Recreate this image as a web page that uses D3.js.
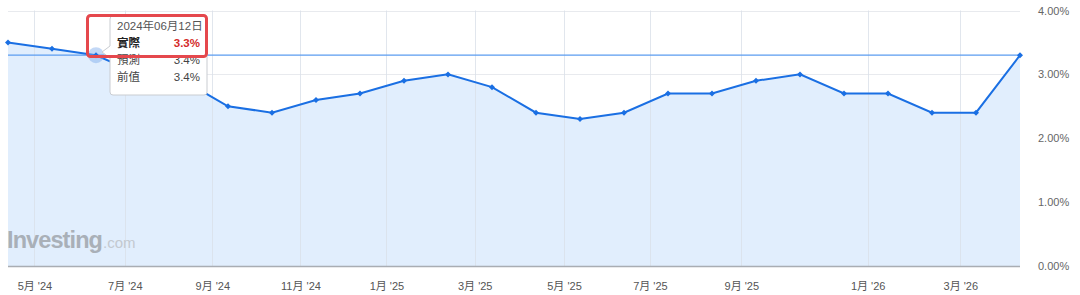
<!DOCTYPE html>
<html>
<head>
<meta charset="utf-8">
<script src="https://cdn.jsdelivr.net/npm/d3@7"></script>
<style>
  body { margin: 0; background: #fff; }
  svg { display: block; font-family: "Liberation Sans", Arial, "Noto Sans CJK TC", sans-serif; }
</style>
</head>
<body>
<svg id="chart" width="1080" height="295"></svg>
<script>
// release dates and actual values (%)
const releaseDates = [
  '2024-04-10', '2024-05-15', '2024-06-12', '2024-07-11', '2024-08-14', '2024-09-11',
  '2024-10-10', '2024-11-13', '2024-12-11', '2025-01-15', '2025-02-12', '2025-03-12',
  '2025-04-10', '2025-05-13', '2025-06-11', '2025-07-15', '2025-08-12', '2025-09-11',
  '2025-10-24', '2025-12-18', '2026-01-13', '2026-02-11', '2026-03-11', '2026-04-10'
];
const actual = [3.5, 3.4, 3.3, 3.0, 2.9, 2.5, 2.4, 2.6, 2.7, 2.9, 3.0, 2.8,
                2.4, 2.3, 2.4, 2.7, 2.7, 2.9, 3.0, 2.7, 2.7, 2.4, 2.4, 3.3];
const xTicks = ['2024-05-01', '2024-07-01', '2024-09-01', '2024-11-01', '2025-01-01', '2025-03-01',
                '2025-05-01', '2025-07-01', '2025-09-01', '2026-01-01', '2026-03-01'];
const xTickLabels = ["5月 '24", "7月 '24", "9月 '24", "11月 '24", "1月 '25", "3月 '25",
                     "5月 '25", "7月 '25", "9月 '25", "1月 '26", "3月 '26"];
const yTicks = [0, 1, 2, 3, 4];

// tooltip content
const hoverIndex = 2;
const tipDate = '2024年06月12日';
const tipRows = [['實際', '3.3%'], ['預測', '3.4%'], ['前值', '3.4%']];

const svg = d3.select('#chart');
const plotLeft = 8, plotRight = 1020, plotTop = 10.5, plotBottom = 266;

const parse = d3.timeParse('%Y-%m-%d');
const dates = releaseDates.map(parse);
const data = dates.map((d, i) => ({ date: d, value: actual[i] }));

// each release gets an equal slot, so the time scale is piecewise linear
const step = (plotRight - plotLeft) / (dates.length - 1);
const x = d3.scaleTime()
  .domain(dates)
  .range(dates.map((d, i) => plotLeft + i * step));

const y = d3.scaleLinear()
  .domain([0, 4])
  .range([plotBottom, plotTop]);

// grid
svg.append('g')
  .selectAll('line')
  .data(yTicks.filter(t => t > 0))
  .join('line')
  .attr('x1', plotLeft).attr('x2', plotRight)
  .attr('y1', d => Math.round(y(d)) + 0.5).attr('y2', d => Math.round(y(d)) + 0.5)
  .attr('stroke', '#e8eaee');

// area
const area = d3.area()
  .x(d => x(d.date))
  .y0(y(0))
  .y1(d => y(d.value));

svg.append('path')
  .datum(data)
  .attr('fill', '#e1eefd')
  .attr('d', area);

svg.append('g')
  .selectAll('line')
  .data(xTicks.map(parse))
  .join('line')
  .attr('x1', d => Math.round(x(d)) + 0.5).attr('x2', d => Math.round(x(d)) + 0.5)
  .attr('y1', plotTop).attr('y2', plotBottom)
  .attr('stroke', '#d9e0e8')
  .attr('stroke-opacity', 0.8);

// watermark
const wm = svg.append('text')
  .attr('x', 7).attr('y', 248)
  .attr('font-family', 'Liberation Sans, Arial, sans-serif');
wm.append('tspan')
  .attr('font-size', 23.5).attr('font-weight', 'bold').attr('fill', '#a9b0b8')
  .attr('letter-spacing', -0.9)
  .text('Investing');
wm.append('tspan')
  .attr('font-size', 15).attr('fill', '#c3c9d0')
  .attr('dx', 1)
  .text('.com');

// bottom axis
const xAxis = d3.axisBottom(x)
  .tickValues(xTicks.map(parse))
  .tickFormat((d, i) => xTickLabels[i])
  .tickSize(0)
  .tickPadding(16);

const gx = svg.append('g')
  .attr('transform', `translate(0,${plotBottom})`)
  .call(xAxis);
gx.select('.domain').remove();
gx.selectAll('text')
  .attr('font-size', 11)
  .attr('fill', '#555')
  .attr('font-family', 'Liberation Sans, Arial, "Noto Sans CJK TC", sans-serif');

svg.append('line')
  .attr('x1', plotLeft).attr('x2', plotRight)
  .attr('y1', plotBottom + 0.5).attr('y2', plotBottom + 0.5)
  .attr('stroke', '#a9adb3')
  .attr('stroke-width', 1.5);

// right axis
const yAxis = d3.axisRight(y)
  .tickValues(yTicks)
  .tickFormat(d => d.toFixed(2) + '%')
  .tickSize(0)
  .tickPadding(18);

const gy = svg.append('g')
  .attr('transform', `translate(${plotRight},0)`)
  .call(yAxis);
gy.select('.domain').remove();
gy.selectAll('text')
  .attr('font-size', 11)
  .attr('fill', '#666')
  .attr('font-family', 'Liberation Sans, Arial, sans-serif');

// crosshair at hovered value
const hover = data[hoverIndex];
svg.append('line')
  .attr('x1', plotLeft).attr('x2', plotRight)
  .attr('y1', y(hover.value)).attr('y2', y(hover.value))
  .attr('stroke', '#5b9cf0')
  .attr('stroke-width', 1.2);

// line
const line = d3.line()
  .x(d => x(d.date))
  .y(d => y(d.value));

svg.append('path')
  .datum(data)
  .attr('fill', 'none')
  .attr('stroke', '#1a6fe3')
  .attr('stroke-width', 2)
  .attr('d', line);

svg.append('circle')
  .attr('cx', x(hover.date)).attr('cy', y(hover.value))
  .attr('r', 8)
  .attr('fill', '#7aa8ea')
  .attr('fill-opacity', 0.45);

svg.append('g')
  .selectAll('path')
  .data(data)
  .join('path')
  .attr('transform', d => `translate(${x(d.date)},${y(d.value)}) rotate(45)`)
  .attr('d', d3.symbol(d3.symbolSquare, 18))
  .attr('fill', '#1a6fe3');

// tooltip
const tip = svg.append('g').attr('transform', 'translate(110,16)');
const tw = 97, th = 79;
tip.append('path')
  .attr('d', `M3,0 H${tw - 3} Q${tw},0 ${tw},3 V${th - 3} Q${tw},${th} ${tw - 3},${th} H3 Q0,${th} 0,${th - 3} V42 L-8,36 L0,30 V3 Q0,0 3,0 Z`)
  .attr('fill', '#fff')
  .attr('stroke', '#c9ccd1')
  .attr('stroke-width', 1);

tip.append('text')
  .attr('x', 7).attr('y', 14)
  .attr('font-size', 11.5)
  .attr('fill', '#555')
  .text(tipDate);

tipRows.forEach((r, i) => {
  const ty = 31 + i * 17;
  tip.append('text')
    .attr('x', 7).attr('y', ty)
    .attr('font-size', 11.5)
    .attr('font-weight', i === 0 ? 'bold' : 'normal')
    .attr('fill', i === 0 ? '#222' : '#444')
    .text(r[0]);
  tip.append('text')
    .attr('x', 90).attr('y', ty)
    .attr('text-anchor', 'end')
    .attr('font-size', 11.5)
    .attr('font-weight', i === 0 ? 'bold' : 'normal')
    .attr('fill', i === 0 ? '#d42a2a' : '#444')
    .text(r[1]);
});

// red highlight frame
svg.append('rect')
  .attr('x', 87.5).attr('y', 15.5)
  .attr('width', 119).attr('height', 41)
  .attr('rx', 3)
  .attr('fill', 'none')
  .attr('stroke', '#e5484d')
  .attr('stroke-width', 3);
</script>
</body>
</html>
